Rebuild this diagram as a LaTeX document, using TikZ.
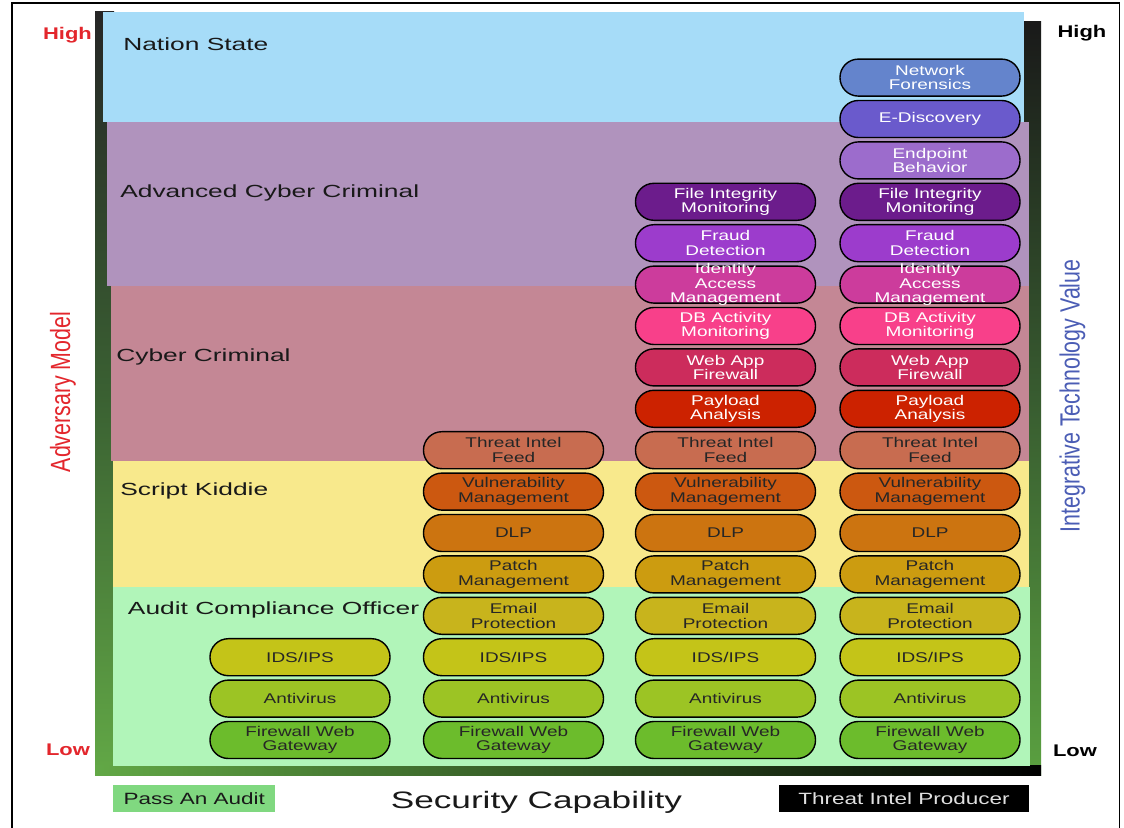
\documentclass[tikz,border=0pt]{standalone}
\usepackage{fontspec}
\setmainfont{Liberation Sans}
\newfontfamily\pillfont{Liberation Sans}[FakeStretch=1.35]
\newfontfamily\bandfont{Liberation Sans}[FakeStretch=1.5]
\newfontfamily\hlfont{Liberation Sans}[FakeStretch=1.3]
\newfontfamily\boxfont{Liberation Sans}[FakeStretch=1.38]
\newfontfamily\capfont{Liberation Sans}[FakeStretch=1.48]
\definecolor{c0}{HTML}{6CBC2C}
\definecolor{c1}{HTML}{9CC424}
\definecolor{c2}{HTML}{C4C418}
\definecolor{c3}{HTML}{C8B41C}
\definecolor{c4}{HTML}{CC9C10}
\definecolor{c5}{HTML}{CC7410}
\definecolor{c6}{HTML}{CC5810}
\definecolor{c7}{HTML}{C86C50}
\definecolor{c8}{HTML}{CC2200}
\definecolor{c9}{HTML}{CC2C5C}
\definecolor{c10}{HTML}{F8408A}
\definecolor{c11}{HTML}{CC3C9C}
\definecolor{c12}{HTML}{9C3CCC}
\definecolor{c13}{HTML}{6C1C8C}
\definecolor{c14}{HTML}{9C6CCC}
\definecolor{c15}{HTML}{6A5ACC}
\definecolor{c16}{HTML}{6484CC}
\definecolor{dk}{HTML}{262626}
\definecolor{txtdark}{HTML}{262626}
\definecolor{grn}{HTML}{62A846}
\definecolor{bNation}{HTML}{A6DCF8}
\definecolor{bAdv}{HTML}{B093BD}
\definecolor{bCyber}{HTML}{C48795}
\definecolor{bScript}{HTML}{F8E98C}
\definecolor{bAudit}{HTML}{B1F5B9}
\definecolor{advred}{HTML}{E3262C}
\definecolor{itvblue}{HTML}{4B5DB5}
\definecolor{passgreen}{HTML}{80D880}
\begin{document}
\begin{tikzpicture}[x=0.025cm,y=-0.025cm,
  pill/.style={draw=black, line width=1pt, rounded corners=0.46cm,
    minimum width=4.5cm, minimum height=0.925cm, inner sep=0pt},
  pilltext/.style={font=\pillfont\fontsize{10}{10.4}\selectfont, align=center, inner sep=0pt},
  bandlabel/.style={font=\bandfont\fontsize{12.5}{14}\selectfont, anchor=base west, text=black!90, inner sep=0pt},
  hl/.style={font=\hlfont\bfseries\fontsize{12}{14}\selectfont, anchor=base, inner sep=0pt},
  axislabel/.style={font=\fontsize{15.2}{17}\selectfont, rotate=90, inner sep=0pt},
  legendbox/.style={font=\boxfont\fontsize{11.6}{13}\selectfont, minimum height=0.675cm, inner sep=0pt}
]
\useasboundingbox (0,0) rectangle (1124,828);
\fill[white] (0,0) rectangle (1124,828);
% outer frame
\draw[line width=0.9pt] (12,828) -- (12,3) -- (1119.5,3) -- (1119.5,828);
% dark / green strips behind the bands
\shade[top color=dk, bottom color=grn, middle color={rgb,255:red,58;green,96;blue,50}] (95,12) rectangle (114,775);
\shade[top color=black!90, bottom color={rgb,255:red,90;green,160;blue,64}, middle color={rgb,255:red,56;green,92;blue,48}] (1024,22) rectangle (1041,775);
\shade[left color=grn, right color=black] (95,765) rectangle (1041,775);
% bands
\fill[bNation] (103,12) rectangle (1024,122);
\fill[bAdv] (107,122) rectangle (1029,285.5);
\fill[bCyber] (111,285.5) rectangle (1029,461);
\fill[bScript] (113,461) rectangle (1029,587);
\fill[bAudit] (113,587) rectangle (1030,766);
% band labels
\node[bandlabel] (lNation) at (123,51) {Nation State};
\node[bandlabel] (lAdv) at (120,197.3) {Advanced Cyber Criminal};
\node[bandlabel] (lCyber) at (116,361.7) {Cyber Criminal};
\node[bandlabel] (lScript) at (120,495.7) {Script Kiddie};
\node[bandlabel] (lAudit) at (127.7,614.3) {Audit Compliance Officer};
% pills
\foreach \c/\cx/\maxr in {1/300/2, 2/513.5/7, 3/725.5/13, 4/930/16}{
  \foreach \r/\txt/\tc in {
    0/{Firewall Web\\Gateway}/txtdark,
    1/{Antivirus}/txtdark,
    2/{IDS/IPS}/txtdark,
    3/{Email\\Protection}/txtdark,
    4/{Patch\\Management}/txtdark,
    5/{DLP}/txtdark,
    6/{Vulnerability\\Management}/txtdark,
    7/{Threat Intel\\Feed}/txtdark,
    8/{Payload\\Analysis}/white,
    9/{Web App\\Firewall}/white,
    10/{DB Activity\\Monitoring}/white,
    11/{Identity\\Access\\Management}/white,
    12/{Fraud\\Detection}/white,
    13/{File Integrity\\Monitoring}/white,
    14/{Endpoint\\Behavior}/white,
    15/{E-Discovery}/white,
    16/{Network\\Forensics}/white}{
    \ifnum\r>\maxr\relax\else
      \node[pill, fill=c\r] (p\c-\r) at (\cx,{740-41.4*\r}) {};
      \node[pilltext, text=\tc] (t\c-\r) at (p\c-\r) {\txt};
    \fi
  }
}
% axis labels
\node[axislabel, text=advred] (advm) at (63,392) {\scalebox{1}[1.3]{Adversary Model}};
\node[axislabel, text=itvblue] (itv) at (1072.5,396) {\scalebox{1}[1.3]{Integrative Technology Value}};
\node[hl, text=advred] (hiL) at (67.5,39.3) {High};
\node[hl, text=advred] (loL) at (68,755) {Low};
\node[hl, text=black] (hiR) at (1082,37.5) {High};
\node[hl, text=black] (loR) at (1075,756) {Low};
% bottom legend
\node[legendbox, fill=passgreen, minimum width=4.05cm, text=black!90] (pass) at (194.3,798.7) {Pass An Audit};
\node[legendbox, fill=black, minimum width=6.225cm, text=black!12] (tip) at (904,798.7) {Threat Intel Producer};
\node[font=\capfont\fontsize{16.9}{19}\selectfont, anchor=base, inner sep=0pt, text=black!90] (seccap) at (536.5,808) {Security Capability};
\end{tikzpicture}
\end{document}
